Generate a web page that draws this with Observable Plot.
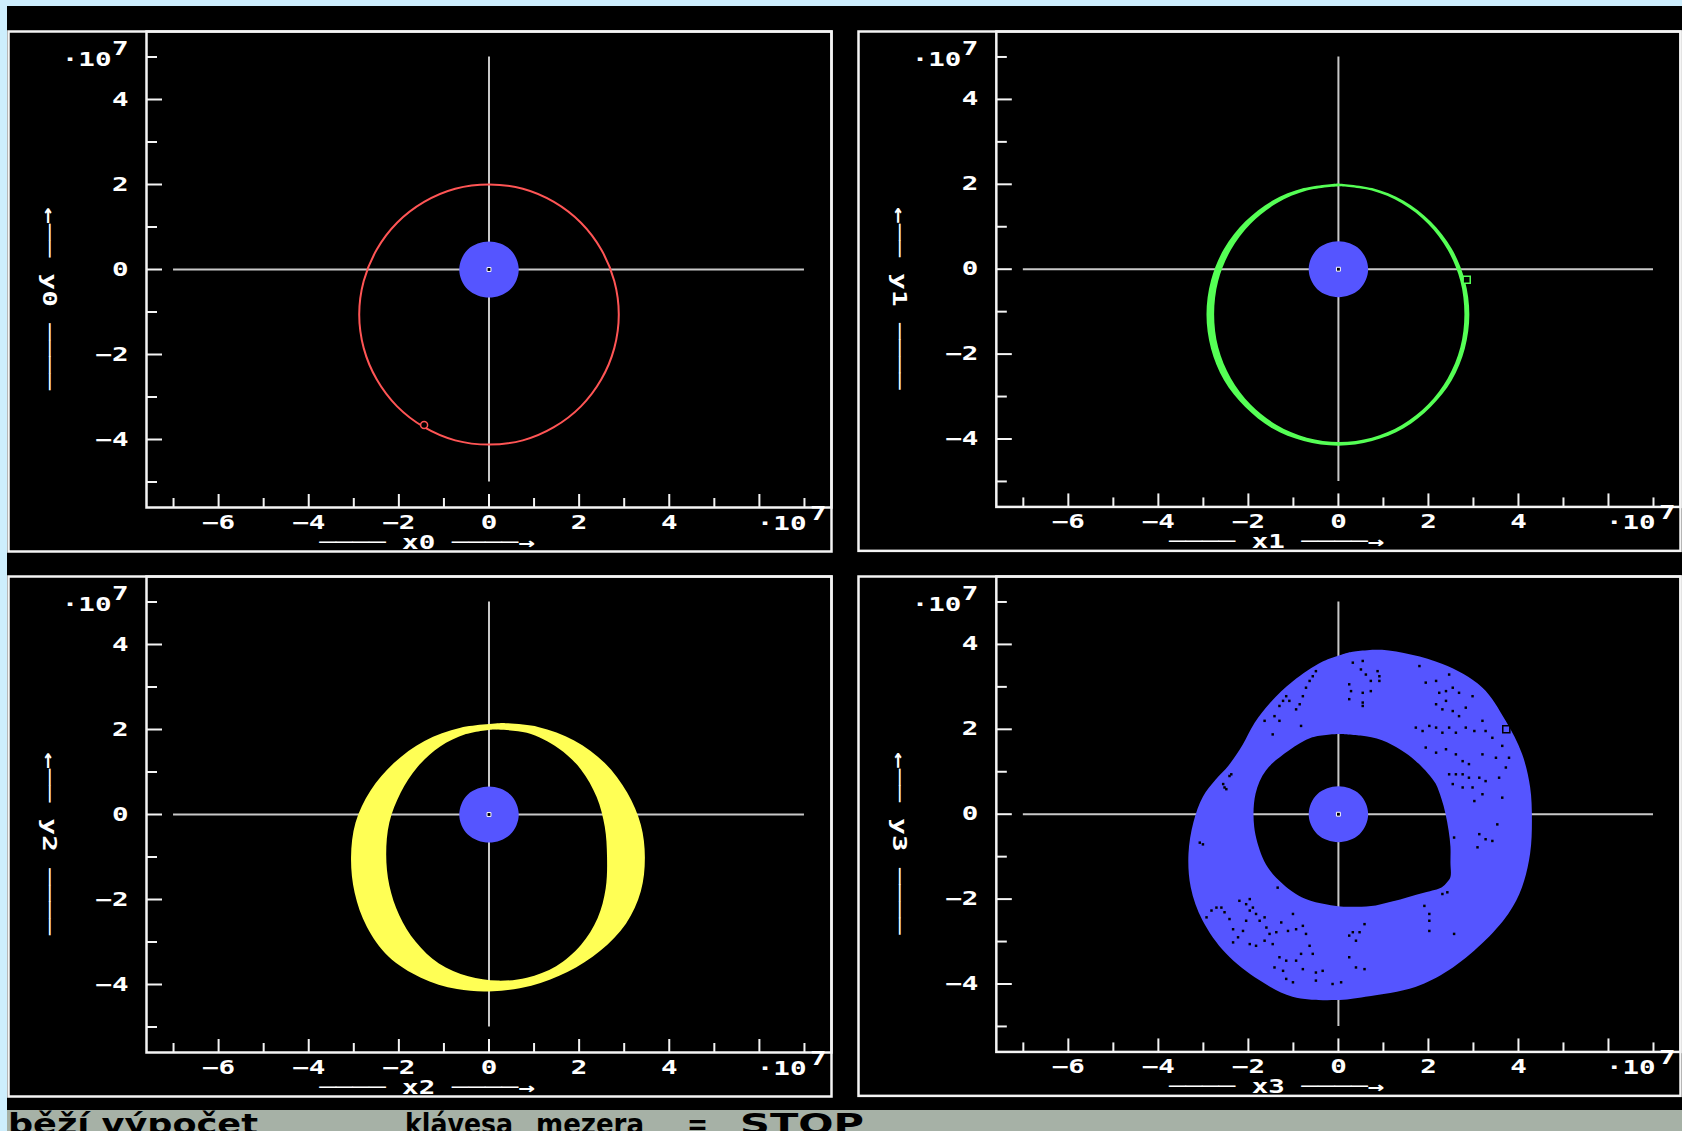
<!DOCTYPE html>
<html>
<head>
<meta charset="utf-8">
<script src="https://cdn.jsdelivr.net/npm/d3@7"></script>
<script src="https://cdn.jsdelivr.net/npm/@observablehq/plot@0.6"></script>
<style>
  html, body { margin: 0; padding: 0; width: 1682px; height: 1131px; overflow: hidden; background: #cdeefd; }
  #screen { position: absolute; left: 7px; top: 6px; width: 1675px; height: 1104px; background: #000; }
  .panel { position: absolute; }
  .panel svg { display: block; overflow: visible; }
  #status { position: absolute; left: 7px; top: 1110px; width: 1675px; height: 21px; background: #a6b1a6; overflow: hidden; }
  #status span { position: absolute; top: 0; font: bold 29px/29px "DejaVu Sans", sans-serif; color: #000; white-space: pre; transform-origin: 0 0; }
</style>
</head>
<body>
<div id="screen"></div>
<div id="status">
  <span data-w="250" style="left:1px">běží výpočet</span>
  <span data-w="108" style="left:398px">klávesa</span>
  <span data-w="108" style="left:529px">mezera</span>
  <span data-w="21" style="left:680px">=</span>
  <span data-w="124" style="left:733px">STOP</span>
</div>
<script>
// Orbit simulation screen: positions in units of 10^7 m, Earth at the origin.

// axis ticks
const majorX = [-6, -4, -2, 0, 2, 4, 6];
const minorX = [-7, -5, -3, -1, 1, 3, 5, 7];
const labelX = [-6, -4, -2, 0, 2, 4];
const majorY = [-4, -2, 0, 2, 4];
const minorY = [-5, -3, -1, 1, 3, 5];
const labelY = [-4, -2, 0, 2, 4];

// Earth outline (radius about 0.66)
const earth = [[0.66,0],[0.61,0.25],[0.47,0.47],[0.25,0.61],[0,0.66],[-0.25,0.61],[-0.47,0.47],[-0.61,0.25],
  [-0.66,0],[-0.61,-0.25],[-0.47,-0.47],[-0.25,-0.61],[0,-0.66],[0.25,-0.61],[0.47,-0.47],[0.61,-0.25]];

// body 0: a single thin orbit
const redOrbit = [[0,2.00],[0.75,1.90],[1.44,1.59],[2.04,1.10],[2.49,0.47],[2.78,-0.27],[2.88,-1.06],[2.78,-1.85],
  [2.49,-2.59],[2.04,-3.22],[1.44,-3.71],[0.75,-4.02],[0,-4.12],[-0.75,-4.02],[-1.44,-3.71],[-2.04,-3.22],
  [-2.49,-2.59],[-2.78,-1.85],[-2.88,-1.06],[-2.78,-0.27],[-2.49,0.47],[-2.04,1.10],[-1.44,1.59],[-0.75,1.90]];
const redPos = [[-1.44, -3.66]];

// body 1: orbit band, outer and inner edge
const greenOuter = [[0,2.01],[0.76,1.90],[1.46,1.60],[2.06,1.11],[2.53,0.47],[2.82,-0.28],[2.92,-1.08],[2.82,-1.88],
  [2.53,-2.63],[2.06,-3.26],[1.46,-3.76],[0.76,-4.06],[0,-4.17],[-0.76,-4.06],[-1.46,-3.76],[-2.06,-3.26],
  [-2.53,-2.63],[-2.82,-1.88],[-2.92,-1.08],[-2.82,-0.28],[-2.53,0.47],[-2.06,1.11],[-1.46,1.60],[-0.76,1.90]];
const greenInner = [[0.03,1.94],[0.75,1.84],[1.42,1.54],[2.00,1.06],[2.44,0.44],[2.72,-0.29],[2.81,-1.07],[2.72,-1.85],
  [2.44,-2.58],[2.00,-3.20],[1.42,-3.68],[0.75,-3.98],[0.03,-4.08],[-0.69,-3.98],[-1.36,-3.68],[-1.94,-3.20],
  [-2.38,-2.58],[-2.66,-1.85],[-2.75,-1.07],[-2.66,-0.29],[-2.38,0.44],[-1.94,1.06],[-1.36,1.54],[-0.69,1.84]];
const greenPos = [[2.85, -0.25]];

// body 2: crescent-shaped band
const yellowOuter = [[0.30,2.14],[1.10,2.05],[1.90,1.73],[2.58,1.20],[3.08,0.50],[3.38,-0.25],[3.47,-1.02],[3.38,-1.82],
  [3.05,-2.58],[2.48,-3.22],[1.75,-3.72],[0.95,-4.04],[0.10,-4.17],[-0.70,-4.12],[-1.50,-3.85],[-2.22,-3.35],
  [-2.70,-2.65],[-2.97,-1.85],[-3.05,-1.02],[-2.95,-0.20],[-2.62,0.55],[-2.10,1.20],[-1.42,1.72],[-0.62,2.03]];
const yellowInner = [[0.10,1.99],[0.85,1.91],[1.55,1.55],[2.05,1.05],[2.40,0.40],[2.58,-0.30],[2.63,-1.00],[2.60,-1.75],
  [2.42,-2.45],[2.05,-3.08],[1.50,-3.58],[0.85,-3.85],[0.20,-3.92],[-0.45,-3.82],[-1.10,-3.52],[-1.62,-3.00],
  [-1.98,-2.38],[-2.20,-1.68],[-2.27,-0.95],[-2.20,-0.20],[-1.95,0.50],[-1.58,1.10],[-1.08,1.58],[-0.50,1.88]];

// body 3: wide precessing band
const blueOuter = [[0.24,3.80],[0.98,3.86],[2.31,3.53],[3.20,2.98],[3.72,2.20],[4.09,1.41],[4.27,0.63],[4.31,-0.16],
  [4.27,-0.94],[4.09,-1.73],[3.79,-2.35],[3.20,-3.06],[2.46,-3.69],[1.72,-4.08],[0.61,-4.31],[-0.05,-4.39],
  [-1.01,-4.31],[-1.75,-3.92],[-2.49,-3.29],[-3.01,-2.51],[-3.27,-1.73],[-3.32,-0.94],[-3.21,-0.20],[-3.00,0.40],
  [-2.72,0.80],[-2.42,1.15],[-2.12,1.62],[-1.85,2.14],[-1.50,2.62],[-1.00,3.12],[-0.35,3.58]];
const blueInner = [[0,1.88],[0.50,1.84],[0.98,1.73],[1.40,1.50],[1.72,1.25],[2.00,0.95],[2.17,0.71],[2.30,0.35],
  [2.39,0],[2.46,-0.40],[2.50,-0.78],[2.50,-1.15],[2.50,-1.49],[2.42,-1.62],[2.31,-1.73],[1.95,-1.85],[1.57,-1.96],
  [1.20,-2.07],[0.84,-2.16],[0.42,-2.19],[0,-2.18],[-0.64,-2.04],[-0.95,-1.88],[-1.23,-1.65],[-1.50,-1.35],
  [-1.68,-1.02],[-1.86,-0.31],[-1.83,0.47],[-1.60,1.02],[-1.09,1.49],[-0.57,1.80]];
const bluePos = [[3.73, 2.0]];
// unvisited pixels left inside the band
const blueGaps = [
  [0.32,3.57],[0.54,3.61],[0.50,3.41],[0.61,3.29],[0.72,3.14],[0.87,3.37],[0.91,3.25],[0.91,3.14],[0.24,3.06],
  [0.28,2.90],[0.24,2.71],[0.54,2.86],[0.54,2.63],[0.54,2.55],[0.72,2.90],[-0.50,3.37],[-0.57,3.25],[-0.64,3.14],
  [-0.72,2.98],[-0.79,2.78],[-0.86,2.59],[-0.94,2.47],[-1.16,2.78],[-1.09,2.67],[-1.23,2.67],[-1.31,2.55],
  [-1.42,2.31],[-1.31,2.20],[-1.64,2.20],[-1.46,1.88],[-0.83,2.08],[-2.42,0.90],[-2.53,0.63],[-2.38,0.94],
  [1.80,3.49],[1.94,3.10],[2.17,3.14],[2.46,3.29],[2.24,2.86],[2.39,2.90],[2.54,2.98],[2.68,2.86],[2.39,2.67],
  [2.17,2.59],[2.31,2.47],[2.54,2.43],[2.68,2.31],[2.83,2.51],[2.98,2.78],[3.20,2.20],[1.72,2.04],[1.87,1.96],
  [2.02,2.08],[2.17,2.04],[2.31,1.92],[2.46,2.04],[2.61,1.92],[2.83,2.04],[3.02,1.96],[3.27,1.96],[3.42,1.80],
  [3.64,1.61],[1.94,1.57],[2.17,1.45],[2.39,1.53],[2.61,1.41],[2.76,1.25],[2.90,1.18],[3.20,1.41],[3.50,1.33],
  [3.79,1.33],[3.72,1.10],[2.46,0.94],[2.61,0.94],[2.76,0.94],[2.90,0.86],[3.13,0.86],[3.27,0.78],[3.57,0.86],
  [2.54,0.71],[2.76,0.63],[2.98,0.63],[3.20,0.47],[3.02,0.31],[3.64,0.39],[3.53,-0.24],[3.13,-0.47],[3.42,-0.63],
  [3.27,-0.59],[3.09,-0.78],[2.57,-0.55],
  [-2.93,-2.43],[-2.82,-2.27],[-2.71,-2.20],[-2.60,-2.20],[-2.53,-2.31],[-2.42,-2.47],[-2.34,-2.71],[-2.20,-2.04],
  [-2.05,-2.12],[-1.97,-2.00],[-1.90,-2.20],[-1.83,-2.35],[-1.97,-2.27],[-1.75,-2.51],[-1.64,-2.43],[-1.60,-2.67],
  [-1.53,-2.82],[-2.05,-2.51],[-2.12,-2.75],[-2.23,-2.90],[-2.34,-3.02],[-1.97,-3.06],[-1.83,-3.10],[-1.64,-2.98],
  [-1.46,-3.06],[-1.38,-2.78],[-1.27,-2.55],[-1.12,-2.75],[-1.01,-2.35],[-0.94,-2.71],[-0.79,-2.63],[-0.72,-2.82],
  [-0.64,-3.10],[-0.57,-3.29],[-0.83,-3.29],[-0.94,-3.45],[-1.16,-3.45],[-1.31,-3.37],[-1.42,-3.61],[-1.16,-3.88],
  [-1.01,-3.96],[-1.23,-3.69],[-0.79,-3.65],[-0.50,-3.73],[-0.35,-3.69],[-0.50,-3.92],[-0.13,-4.00],[0.06,-3.96],
  [0.24,-3.37],[0.32,-2.78],[0.39,-2.98],[0.47,-2.78],[0.58,-2.59],[0.24,-2.86],[0.39,-3.61],[0.58,-3.65],
  [-1.35,-1.73],[-3.01,-0.71],[-3.08,-0.67],[-2.56,0.71],[-2.49,0.59],
  [1.91,-2.16],[2.02,-2.35],[2.02,-2.51],[2.02,-2.75],[2.31,-1.88],[2.42,-1.84],[2.57,-2.82]
];

const panels = [
  {name: "0", left: 6, top: 29},
  {name: "1", left: 856, top: 29},
  {name: "2", left: 6, top: 574},
  {name: "3", left: 856, top: 574}
];

const RED = "#ff5555", GREEN = "#55ff55", YELLOW = "#ffff55", BLUE = "#5555ff";
const FRAME = "#f4f4f4", CROSS = "#c8c8c8";

// outer and inner edge joined into one area, so the hole stays transparent
function ring(outer, inner) {
  const o = [...outer, outer[0]], i = [...inner, inner[0]];
  return o.map((p, k) => ({x1: p[0], y1: p[1], x2: i[k][0], y2: i[k][1]}));
}
const band = (outer, inner, fill) =>
  Plot.area(ring(outer, inner), {x1: "x1", y1: "y1", x2: "x2", y2: "y2", fill, curve: "catmull-rom"});

const W = 827, H = 524, mL = 140, mT = 2, mR = 2, mB = 46;
const innerW = W - mL - mR, innerH = H - mT - mB;
const fmt = d => d < 0 ? "\u2212" + (-d) : String(d);
const txt = {fill: "white", fontFamily: "DejaVu Sans Mono", fontWeight: "bold", fontSize: 19};
const px = d => d[0], py = d => d[1];

function orbitMarks(n) {
  if (n === "0") return [Plot.line(redOrbit, {x: px, y: py, stroke: RED, strokeWidth: 2, curve: "catmull-rom-closed"})];
  if (n === "1") return [band(greenOuter, greenInner, GREEN)];
  if (n === "2") return [band(yellowOuter, yellowInner, YELLOW)];
  return [
    band(blueOuter, blueInner, BLUE),
    Plot.dot(blueGaps, {x: px, y: py, symbol: "square", r: 1.4, fill: "black", stroke: "none"})
  ];
}

function posMarks(n) {
  if (n === "0") return [Plot.dot(redPos, {x: px, y: py, r: 3.5, stroke: RED, strokeWidth: 1.5, fill: "black"})];
  if (n === "1") return [Plot.dot(greenPos, {x: px, y: py, symbol: "square", r: 4, stroke: GREEN, strokeWidth: 1.5, fill: "black"})];
  if (n === "3") return [Plot.dot(bluePos, {x: px, y: py, symbol: "square", r: 4, stroke: "black", strokeWidth: 1.5, fill: BLUE})];
  return [];
}

for (const p of panels) {
  const chart = Plot.plot({
    width: W, height: H,
    marginLeft: mL, marginTop: mT, marginRight: mR, marginBottom: mB,
    x: {domain: [-7.6, 7.6], axis: null},
    y: {domain: [-5.6, 5.6], axis: null},
    style: {background: "transparent", color: "white", fontFamily: "DejaVu Sans Mono", fontWeight: "bold"},
    marks: [
      // panel border and plot frame
      Plot.frame({stroke: FRAME, strokeWidth: 2.5, insetLeft: -(mL - 2), insetBottom: -(mB - 2)}),
      Plot.frame({stroke: FRAME, strokeWidth: 2.5}),
      // inward ticks
      Plot.tickX(majorX, {x: d => d, stroke: FRAME, strokeWidth: 2, insetTop: innerH - 13}),
      Plot.tickX(minorX, {x: d => d, stroke: FRAME, strokeWidth: 2, insetTop: innerH - 9}),
      Plot.tickY(majorY, {y: d => d, stroke: FRAME, strokeWidth: 2, insetRight: innerW - 16}),
      Plot.tickY(minorY, {y: d => d, stroke: FRAME, strokeWidth: 2, insetRight: innerW - 11}),
      // tick labels
      Plot.axisX({ticks: labelX, tickSize: 0, tickPadding: 8, tickFormat: fmt, fontSize: 19, fill: "white"}),
      Plot.axisY({ticks: labelY, tickSize: 0, tickPadding: 18, tickFormat: fmt, fontSize: 19, fill: "white"}),
      Plot.text(["\u00b710"], {...txt, frameAnchor: "top-left", textAnchor: "end", dx: -35, dy: 21}),
      Plot.text(["7"], {...txt, frameAnchor: "top-left", textAnchor: "end", dx: -18, dy: 10}),
      Plot.text(["\u00b710"], {...txt, frameAnchor: "bottom-right", textAnchor: "end", dx: -25, dy: 22}),
      Plot.text(["7"], {...txt, frameAnchor: "bottom-right", textAnchor: "end", dx: -5, dy: 12}),
      // axis names
      Plot.text(["\u2500\u2500\u2500\u2500 x" + p.name + " \u2500\u2500\u2500\u2500\u2192"],
        {...txt, frameAnchor: "bottom", textAnchor: "middle", dx: -62, dy: 41}),
      Plot.text(["\u2190\u2500\u2500 y" + p.name + " \u2500\u2500\u2500\u2500"],
        {...txt, frameAnchor: "left", textAnchor: "middle", rotate: 90, dx: -97, dy: 29}),
      // crosshair through the origin
      Plot.ruleY([0], {x1: -7, x2: 7, stroke: CROSS, strokeWidth: 2}),
      Plot.ruleX([0], {y1: -5, y2: 5, stroke: CROSS, strokeWidth: 2}),
      ...orbitMarks(p.name),
      // Earth and origin marker
      Plot.line(earth, {x: px, y: py, fill: BLUE, stroke: "none", curve: "catmull-rom-closed"}),
      Plot.dot([[0, 0]], {x: px, y: py, symbol: "square", r: 2.2, stroke: "white", strokeWidth: 1, fill: "black"}),
      ...posMarks(p.name)
    ]
  });
  const div = document.createElement("div");
  div.className = "panel";
  div.style.left = p.left + "px";
  div.style.top = p.top + "px";
  div.appendChild(chart);
  document.body.appendChild(div);
  // widen the glyphs to the broad screen font
  for (const t of chart.querySelectorAll("text")) {
    const len = t.getComputedTextLength();
    if (len > 0) {
      t.setAttribute("textLength", (len * 1.45).toFixed(1));
      t.setAttribute("lengthAdjust", "spacingAndGlyphs");
    }
  }
}

// status line words stretched to their cell widths
for (const s of document.querySelectorAll("#status span")) {
  const w = s.getBoundingClientRect().width;
  s.style.transform = `scaleX(${(+s.dataset.w / w).toFixed(3)})`;
}
</script>
</body>
</html>
